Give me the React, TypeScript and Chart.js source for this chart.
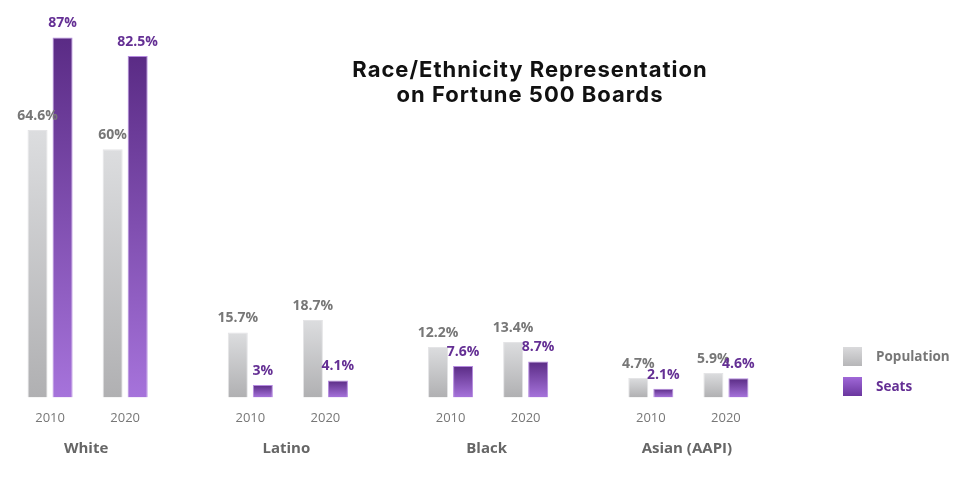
import { useEffect, useRef } from 'react';
import { Chart, registerables } from 'chart.js';

Chart.register(...registerables);

// ---- data ----
const GROUPS = ['White', 'Latino', 'Black', 'Asian (AAPI)'];
const YEARS = ['2010', '2020'];
const SERIES = ['Population', 'Seats'];
const POPULATION_2010 = [64.6, 15.7, 12.2, 4.7];
const SEATS_2010 = [87, 3, 7.6, 2.1];
const POPULATION_2020 = [60, 18.7, 13.4, 5.9];
const SEATS_2020 = [82.5, 4.1, 8.7, 4.6];
const TITLE_LINES = ['Race/Ethnicity Representation', 'on Fortune 500 Boards'];

// ---- styles ----
const GRAY_TOP = '#dcdddf';
const GRAY_BOTTOM = '#b0b0b2';
const PURPLE_TOP = '#5a2b85';
const PURPLE_BOTTOM = '#a673db';
const GRAY_TEXT = '#777777';
const PURPLE_TEXT = '#642f94';
const N_SLOTS = 6; // pop2010, seats2010, gap, pop2020, seats2020, gap
const CAT_PCT = 0.75;

const barBg = (top: string, bottom: string) => (c: any) => {
  const chart = c.chart;
  if (c.type !== 'data' || !chart.chartArea || c.raw == null) return bottom;
  const ys = chart.scales.y;
  const y0 = ys.getPixelForValue(c.raw);
  const y1 = ys.getPixelForValue(0);
  const g = chart.ctx.createLinearGradient(0, y0, 0, y1);
  g.addColorStop(0, top);
  g.addColorStop(1, bottom);
  return g;
};

const pairOffset = (a: number, b: number) => CAT_PCT * (((a + b) / 2 + 0.5) / N_SLOTS - 0.5);

export default function App() {
  const ref = useRef<HTMLCanvasElement>(null);

  useEffect(() => {
    if (!ref.current) return;
    const none = GROUPS.map(() => null);
    const popDs = (data: number[]) => ({
      label: SERIES[0],
      data,
      xAxisID: 'x',
      yAxisID: 'y',
      backgroundColor: barBg(GRAY_TOP, GRAY_BOTTOM),
      borderColor: '#e4e4e6',
      borderWidth: 1,
      _series: 0,
    });
    const seatDs = (data: number[]) => ({
      label: SERIES[1],
      data,
      xAxisID: 'x',
      yAxisID: 'y',
      backgroundColor: barBg(PURPLE_TOP, PURPLE_BOTTOM),
      borderColor: '#b58ae0',
      borderWidth: 1,
      _series: 1,
    });
    const gapDs = () => ({ label: '', data: none, xAxisID: 'x', yAxisID: 'y', _series: -1 });

    const valueLabels = {
      id: 'valueLabels',
      afterDatasetsDraw(chart: any) {
        const ctx = chart.ctx;
        ctx.save();
        ctx.font = 'bold 14px "Open Sans"';
        ctx.textAlign = 'center';
        ctx.textBaseline = 'alphabetic';
        chart.data.datasets.forEach((ds: any, di: number) => {
          if (ds._series < 0) return;
          const meta = chart.getDatasetMeta(di);
          ctx.fillStyle = ds._series === 0 ? GRAY_TEXT : PURPLE_TEXT;
          meta.data.forEach((el: any, i: number) => {
            const v = ds.data[i];
            if (v == null) return;
            ctx.fillText(`${v}%`, el.x, el.y - 10);
          });
        });
        ctx.restore();
      },
    };

    const titleAndLegend = {
      id: 'titleAndLegend',
      afterDraw(chart: any) {
        const ctx = chart.ctx;
        const area = chart.chartArea;
        ctx.save();
        // title
        ctx.fillStyle = '#111111';
        ctx.font = 'bold 22px Inter';
        (ctx as any).letterSpacing = '1px';
        ctx.textAlign = 'center';
        ctx.textBaseline = 'alphabetic';
        TITLE_LINES.forEach((t, i) => ctx.fillText(t, 530, 77 + i * 25));
        (ctx as any).letterSpacing = '0px';
        // legend
        const lx = area.right + 42;
        const tops = [347, 377];
        SERIES.forEach((s, i) => {
          const y = tops[i];
          const g = ctx.createLinearGradient(0, y, 0, y + 19);
          if (i === 0) {
            g.addColorStop(0, '#dadadc');
            g.addColorStop(1, '#b6b6b8');
          } else {
            g.addColorStop(0, '#a068d8');
            g.addColorStop(1, '#6a369e');
          }
          ctx.fillStyle = g;
          ctx.fillRect(lx, y, 19, 19);
          ctx.fillStyle = i === 0 ? GRAY_TEXT : PURPLE_TEXT;
          ctx.font = 'bold 13.5px "Open Sans"';
          ctx.textAlign = 'left';
          ctx.textBaseline = 'middle';
          ctx.fillText(s, lx + 33, y + 10);
        });
        ctx.restore();
      },
    };

    const chart = new Chart(ref.current, {
      type: 'bar',
      data: {
        labels: GROUPS,
        datasets: [
          popDs(POPULATION_2010),
          seatDs(SEATS_2010),
          gapDs(),
          popDs(POPULATION_2020),
          seatDs(SEATS_2020),
          gapDs(),
        ] as any,
      },
      options: {
        animation: false,
        responsive: false,
        layout: { padding: { left: 0, right: 159, top: 25, bottom: 20 } },
        datasets: { bar: { categoryPercentage: CAT_PCT, barPercentage: 0.8 } } as any,
        plugins: {
          legend: { display: false },
          title: { display: false },
          tooltip: { enabled: false },
        },
        scales: {
          x: {
            type: 'category',
            position: 'bottom',
            weight: 1,
            grid: { display: false, drawTicks: false },
            border: { display: false },
            ticks: {
              padding: 1,
              labelOffset: -14,
              maxRotation: 0,
              color: '#666666',
              font: { family: '"Open Sans"', size: 15, weight: 'bold' },
            },
          },
          x2: {
            type: 'linear',
            axis: 'x',
            position: 'bottom',
            weight: 0,
            offset: false,
            min: -0.5,
            max: GROUPS.length - 0.5,
            grid: { display: false, drawTicks: false, offset: false },
            border: { display: false },
            afterBuildTicks(axis: any) {
              const ticks: any[] = [];
              GROUPS.forEach((_, i) => {
                ticks.push({ value: i + pairOffset(0, 1) });
                ticks.push({ value: i + pairOffset(3, 4) });
              });
              axis.ticks = ticks;
            },
            ticks: {
              autoSkip: false,
              maxRotation: 0,
              padding: 13,
              color: GRAY_TEXT,
              font: { family: '"Open Sans"', size: 13 },
              callback: (_v: any, i: number) => YEARS[i % 2],
            },
          } as any,
          y: { display: false, min: 0, max: 90 },
        },
      },
      plugins: [valueLabels, titleAndLegend],
    });
    return () => chart.destroy();
  }, []);

  return (
    <>
      <style>{'body{margin:0;background:#fff}'}</style>
      <canvas ref={ref} width={960} height={479} style={{ display: 'block' }} />
    </>
  );
}
